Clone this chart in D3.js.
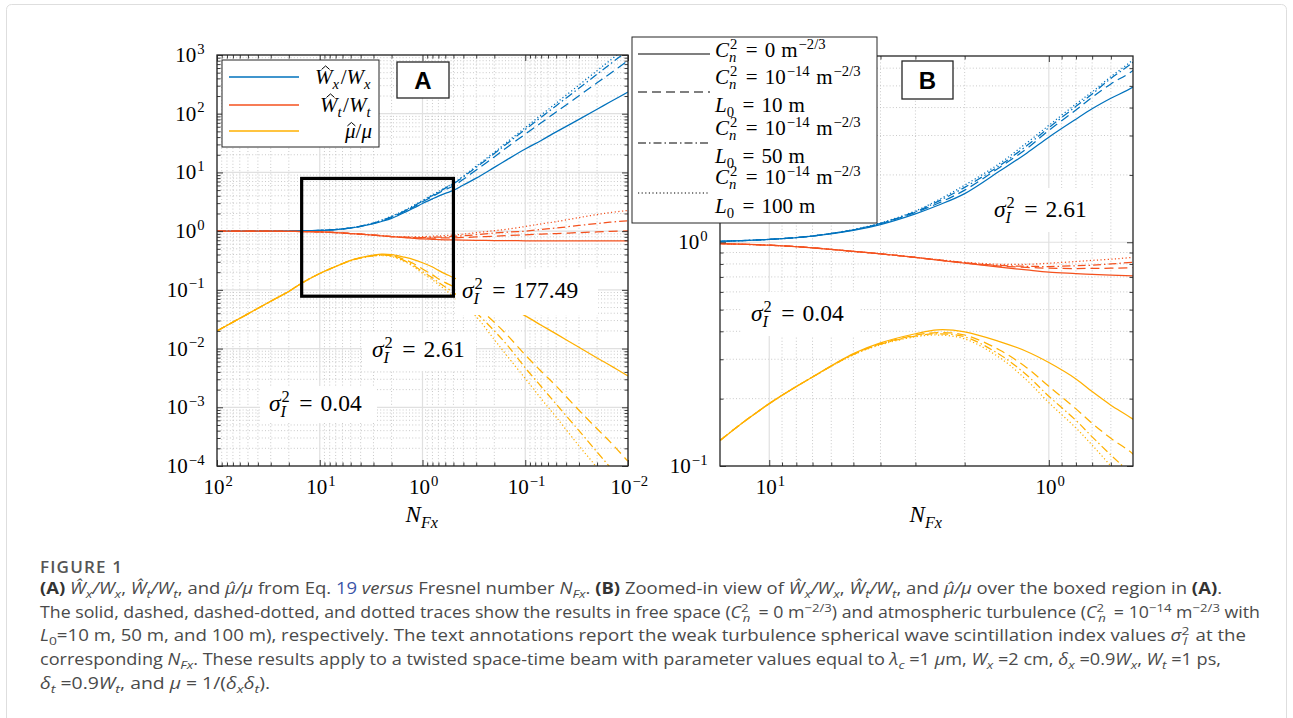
<!DOCTYPE html>
<html>
<head>
<meta charset="utf-8">
<script src="https://cdn.jsdelivr.net/npm/d3@7"></script>
<style>
  body { margin: 0; background: #fff; }
  svg { display: block; }
</style>
</head>
<body>
<svg id="fig" width="1293" height="718"></svg>
<script>
// ---- data ----
// Fresnel number samples (x axis, shared by every trace)
const nfx = [100, 50, 30, 20, 15, 10, 7, 5, 4, 3, 2.5, 2, 1.5, 1.2, 1, 0.8, 0.7, 0.6, 0.5, 0.4, 0.3, 0.2, 0.15, 0.1, 0.07, 0.05, 0.03, 0.02, 0.015, 0.01];

// W^_x / W_x
const wxFree = [1, 1, 1, 1.005, 1.01, 1.03, 1.065, 1.13, 1.2, 1.34, 1.46, 1.65, 2.08, 2.5, 2.95, 3.55, 3.95, 4.4, 4.94, 6.1, 8.0, 12.2, 16.5, 25, 35, 49, 80, 119, 158, 235];
const wxL10 = [1, 1, 1, 1.005, 1.01, 1.03, 1.066, 1.135, 1.21, 1.36, 1.49, 1.71, 2.16, 2.62, 3.16, 3.9, 4.45, 5.1, 5.86, 7.65, 11.0, 18.4, 26.8, 45, 70, 107, 202, 336, 481, 800];
const wxL50 = [1, 1, 1, 1.005, 1.01, 1.03, 1.067, 1.137, 1.215, 1.37, 1.52, 1.76, 2.2, 2.7, 3.25, 4.05, 4.6, 5.4, 6.38, 8.4, 12.2, 21, 31, 54, 87, 137, 272, 470, 694, 1200];
const wxL100 = [1, 1, 1, 1.005, 1.01, 1.03, 1.068, 1.14, 1.22, 1.38, 1.54, 1.8, 2.25, 2.78, 3.33, 4.15, 4.7, 5.5, 6.54, 8.7, 12.8, 22, 33, 58, 95, 152, 308, 542, 808, 1420];

// W^_t / W_t
const wtFree = [1, 1, 0.998, 0.993, 0.985, 0.97, 0.945, 0.91, 0.888, 0.855, 0.833, 0.806, 0.775, 0.752, 0.735, 0.725, 0.719, 0.713, 0.708, 0.702, 0.697, 0.692, 0.689, 0.686, 0.684, 0.683, 0.682, 0.681, 0.681, 0.68];
const wtL10 = [1, 1, 0.998, 0.993, 0.985, 0.97, 0.945, 0.91, 0.888, 0.855, 0.834, 0.808, 0.782, 0.772, 0.766, 0.763, 0.764, 0.766, 0.77, 0.78, 0.795, 0.82, 0.84, 0.865, 0.89, 0.91, 0.945, 0.97, 0.99, 1.01];
const wtL50 = [1, 1, 0.998, 0.993, 0.985, 0.97, 0.945, 0.91, 0.888, 0.855, 0.835, 0.81, 0.788, 0.781, 0.779, 0.785, 0.79, 0.8, 0.814, 0.835, 0.87, 0.93, 0.96, 1.0, 1.07, 1.13, 1.25, 1.35, 1.42, 1.5];
const wtL100 = [1, 1, 0.998, 0.993, 0.985, 0.97, 0.945, 0.91, 0.888, 0.856, 0.837, 0.814, 0.797, 0.797, 0.806, 0.82, 0.83, 0.84, 0.857, 0.89, 0.94, 1.02, 1.08, 1.2, 1.33, 1.45, 1.7, 1.92, 2.07, 2.25];

// mu^ / mu
const muFree = [0.02, 0.039, 0.064, 0.094, 0.13, 0.19, 0.25, 0.318, 0.355, 0.39, 0.406, 0.398, 0.36, 0.325, 0.29, 0.245, 0.215, 0.187, 0.162, 0.131, 0.1, 0.068, 0.052, 0.036, 0.025, 0.0178, 0.0105, 0.0069, 0.0052, 0.0034];
const muL10 = [0.02, 0.039, 0.064, 0.094, 0.13, 0.19, 0.25, 0.316, 0.352, 0.384, 0.395, 0.385, 0.33, 0.275, 0.227, 0.18, 0.155, 0.133, 0.113, 0.082, 0.053, 0.028, 0.017, 0.0078, 0.0041, 0.0023, 0.00089, 0.00043, 0.00026, 0.00012];
const muL50 = [0.02, 0.039, 0.064, 0.094, 0.13, 0.19, 0.25, 0.315, 0.35, 0.381, 0.39, 0.378, 0.315, 0.255, 0.205, 0.16, 0.135, 0.112, 0.09, 0.0655, 0.041, 0.02, 0.0115, 0.0047, 0.00226, 0.00113, 0.0004, 0.000173, 0.000096, 0.000042];
const muL100 = [0.02, 0.039, 0.064, 0.094, 0.13, 0.19, 0.25, 0.314, 0.348, 0.378, 0.385, 0.37, 0.305, 0.242, 0.192, 0.148, 0.124, 0.1, 0.077, 0.055, 0.035, 0.0142, 0.0075, 0.0031, 0.0014, 0.00068, 0.00022, 0.000092, 0.00004, 0.000015];

// zoom region (panel B limits, drawn as the box in panel A)
const boxN = [15, 0.5];
const boxV = [0.078, 7.9];

// scintillation index annotations
const sigmaA = ["177.49", "2.61", "0.04"];
const sigmaB = ["2.61", "0.04"];

// ---- look ----
const BLUE = "#0072BD", RED = "#F4511E", YEL = "#FFB000";
const MATH = "'Liberation Serif', 'DejaVu Serif', serif";
const SANS = "'Open Sans', 'Noto Sans', sans-serif";
const INK = "#262626";
const dashes = [null, "9,5", "8,3,1.5,3", "1.2,2.4"];

const quantities = [
  { color: BLUE, series: [wxFree, wxL10, wxL50, wxL100] },
  { color: RED, series: [wtFree, wtL10, wtL50, wtL100] },
  { color: YEL, series: [muFree, muL10, muL50, muL100] }
];

const svg = d3.select("#fig");
svg.append("rect").attr("width", 1293).attr("height", 718).attr("fill", "#fff");
svg.append("rect").attr("x", 6.5).attr("y", 4.5).attr("width", 1280).attr("height", 760)
  .attr("rx", 5).attr("fill", "none").attr("stroke", "#dedede");

// latex-like label: one <text> with positioned tspans, hats drawn as small paths
function mathText(parent, x, y, fs, pieces, anchor) {
  const meas = parent.append("text").attr("font-family", MATH);
  const width = (txt, size, it) => {
    meas.attr("font-size", size).attr("font-style", it ? "italic" : "normal").text(txt);
    return meas.node().getComputedTextLength();
  };
  const spans = [], hats = [];
  let cx = 0;
  pieces.forEach(p => {
    if (p.gap) { cx += p.gap; return; }
    if (p.t !== undefined) {
      const w = width(p.t, fs, p.it);
      spans.push({ txt: p.t, x: cx, y: 0, size: fs, it: p.it });
      if (p.hat) hats.push({ cx: cx + w * 0.6, top: p.cap ? -fs * 0.86 : -fs * 0.74 });
      cx += w;
      return;
    }
    let w = 0;
    if (p.sup !== undefined) {
      spans.push({ txt: p.sup, x: cx + 1, y: -fs * 0.4, size: fs * 0.7, it: p.supIt });
      w = Math.max(w, width(p.sup, fs * 0.7, p.supIt) + 1);
    }
    if (p.sub !== undefined) {
      spans.push({ txt: p.sub, x: cx, y: fs * 0.24, size: fs * 0.7, it: p.subIt });
      w = Math.max(w, width(p.sub, fs * 0.7, p.subIt));
    }
    cx += w + 1.5;
  });
  meas.remove();
  const x0 = x + (anchor === "end" ? -cx : anchor === "middle" ? -cx / 2 : 0);
  const t = parent.append("text").attr("font-family", MATH).attr("fill", "#000");
  spans.forEach(s => {
    t.append("tspan").attr("x", x0 + s.x).attr("y", y + s.y)
      .attr("font-size", s.size).attr("font-style", s.it ? "italic" : "normal").text(s.txt);
  });
  hats.forEach(h => {
    parent.append("path")
      .attr("d", "M" + (x0 + h.cx - 4) + "," + (y + h.top + 3.5) + "L" + (x0 + h.cx) + "," + (y + h.top) +
        "L" + (x0 + h.cx + 4) + "," + (y + h.top + 3.5))
      .attr("fill", "none").attr("stroke", "#000").attr("stroke-width", 1);
  });
  return cx;
}

function pow10(parent, x, y, e, anchor) {
  const s = e < 0 ? "\u2212" + (-e) : "" + e;
  mathText(parent, x, y, 21, [{ t: "10" }, { sup: s }], anchor);
}

function minors(lo, hi) {
  const out = [];
  for (let d = Math.floor(Math.log10(lo)); d <= Math.ceil(Math.log10(hi)); d++) {
    for (let k = 2; k <= 9; k++) {
      const v = k * Math.pow(10, d);
      if (v > lo * 1.001 && v < hi * 0.999) out.push(v);
    }
  }
  return out;
}

function panel(cfg) {
  const { left, top, w, h, xDom, yDom, xMaj, yMaj, id } = cfg;
  const x = d3.scaleLog().domain(xDom).range([0, w]);
  const y = d3.scaleLog().domain(yDom).range([h, 0]);
  const xMin = minors(Math.min(...xDom), Math.max(...xDom));
  const yMin = minors(yDom[0], yDom[1]);
  const g = svg.append("g").attr("transform", "translate(" + left + "," + top + ")");

  // grid
  g.selectAll(".gxm").data(xMin).join("line")
    .attr("x1", d => x(d)).attr("x2", d => x(d)).attr("y1", 0).attr("y2", h)
    .attr("stroke", "#bdbdbd").attr("stroke-width", 0.8).attr("stroke-dasharray", "1,2.2");
  g.selectAll(".gym").data(yMin).join("line")
    .attr("y1", d => y(d)).attr("y2", d => y(d)).attr("x1", 0).attr("x2", w)
    .attr("stroke", "#bdbdbd").attr("stroke-width", 0.8).attr("stroke-dasharray", "1,2.2");
  g.selectAll(".gx").data(xMaj).join("line")
    .attr("x1", d => x(d)).attr("x2", d => x(d)).attr("y1", 0).attr("y2", h)
    .attr("stroke", "#e0e0e0").attr("stroke-width", 1.2);
  g.selectAll(".gy").data(yMaj).join("line")
    .attr("y1", d => y(d)).attr("y2", d => y(d)).attr("x1", 0).attr("x2", w)
    .attr("stroke", "#e0e0e0").attr("stroke-width", 1.2);

  // traces
  g.append("clipPath").attr("id", id).append("rect").attr("width", w).attr("height", h);
  const plot = g.append("g").attr("clip-path", "url(#" + id + ")");
  const line = d3.line()
    .x(d => x(d[0])).y(d => y(d[1]))
    .curve(d3.curveCatmullRom.alpha(0.5));
  quantities.forEach(q => {
    [3, 2, 1, 0].forEach(k => {
      plot.append("path")
        .datum(nfx.map((n, i) => [n, q.series[k][i]]))
        .attr("d", line)
        .attr("fill", "none")
        .attr("stroke", q.color)
        .attr("stroke-width", 1.25)
        .attr("stroke-dasharray", dashes[k]);
    });
  });

  // ticks on all four sides, pointing inward
  [[xMaj, 6], [xMin, 3.5]].forEach(([vals, len]) => {
    g.append("g").attr("transform", "translate(0," + h + ")")
      .call(d3.axisBottom(x).tickValues(vals).tickSize(-len).tickFormat(""));
    g.append("g").call(d3.axisTop(x).tickValues(vals).tickSize(-len).tickFormat(""));
  });
  [[yMaj, 6], [yMin, 3.5]].forEach(([vals, len]) => {
    g.append("g").call(d3.axisLeft(y).tickValues(vals).tickSize(-len).tickFormat(""));
    g.append("g").attr("transform", "translate(" + w + ",0)")
      .call(d3.axisRight(y).tickValues(vals).tickSize(-len).tickFormat(""));
  });
  g.selectAll(".domain").remove();
  g.selectAll(".tick line").attr("stroke", INK).attr("stroke-width", 0.9);

  g.append("rect").attr("width", w).attr("height", h)
    .attr("fill", "none").attr("stroke", INK).attr("stroke-width", 1.3);

  // tick labels
  xMaj.forEach(v => pow10(g, x(v) + 2, h + 28, Math.round(Math.log10(v)), "middle"));
  yMaj.forEach(v => pow10(g, -11, y(v) + 7, Math.round(Math.log10(v)), "end"));

  // axis label
  mathText(g, w / 2, h + 56, 23, [{ t: "N", it: true }, { sub: "Fx", subIt: true }], "middle");

  return { g, x, y };
}

const A = panel({
  id: "clipA", left: 217, top: 55, w: 411, h: 411,
  xDom: [100, 0.01], yDom: [1e-4, 1e3],
  xMaj: [100, 10, 1, 0.1, 0.01], yMaj: [1e-4, 1e-3, 1e-2, 1e-1, 1, 10, 100, 1000]
});
const B = panel({
  id: "clipB", left: 720, top: 56, w: 413, h: 410,
  xDom: [15, 0.5], yDom: [0.1, 6.8],
  xMaj: [10, 1], yMaj: [0.1, 1]
});

// zoom box in panel A
A.g.append("rect")
  .attr("x", A.x(boxN[0])).attr("y", A.y(boxV[1]))
  .attr("width", A.x(boxN[1]) - A.x(boxN[0])).attr("height", A.y(boxV[0]) - A.y(boxV[1]))
  .attr("fill", "none").attr("stroke", "#000").attr("stroke-width", 3.2);

// sigma annotations (white background like MATLAB text boxes)
function sigmaLabel(bx, by, bw, bh, tx, ty, val) {
  svg.append("rect").attr("x", bx).attr("y", by).attr("width", bw).attr("height", bh).attr("fill", "#fff");
  mathText(svg, tx, ty, 23.5, [
    { t: "\u03C3", it: true }, { sup: "2", sub: "I", subIt: true },
    { gap: 8 }, { t: "=" }, { gap: 8 }, { t: val }
  ], "start");
}
sigmaLabel(456, 269, 142, 46, 462, 298, sigmaA[0]);
sigmaLabel(362, 333, 114, 38, 372, 357, sigmaA[1]);
sigmaLabel(260, 386, 117, 37, 269, 411, sigmaA[2]);
sigmaLabel(986, 188, 112, 44, 994, 217, sigmaB[0]);
sigmaLabel(742, 292, 118, 44, 751, 321, sigmaB[1]);

// panel tags
function tag(x0, y0, w, h, letter) {
  svg.append("rect").attr("x", x0).attr("y", y0).attr("width", w).attr("height", h)
    .attr("fill", "#fff").attr("stroke", INK).attr("stroke-width", 1.3);
  svg.append("text").attr("x", x0 + w / 2).attr("y", y0 + h / 2 + 8.5)
    .attr("text-anchor", "middle").attr("font-family", "'Liberation Sans', Arial, sans-serif")
    .attr("font-weight", "bold").attr("font-size", 24).text(letter);
}
tag(397, 62, 52, 36, "A");
tag(902, 61, 51, 38, "B");

// legend of panel A (quantities)
svg.append("rect").attr("x", 222).attr("y", 60).attr("width", 157).attr("height", 87)
  .attr("fill", "#fff").attr("stroke", INK).attr("stroke-width", 1);
const legA = [
  [{ t: "W", it: true, hat: true, cap: true }, { sub: "x", subIt: true }, { t: "/" }, { t: "W", it: true }, { sub: "x", subIt: true }],
  [{ t: "W", it: true, hat: true, cap: true }, { sub: "t", subIt: true }, { t: "/" }, { t: "W", it: true }, { sub: "t", subIt: true }],
  [{ t: "\u03BC", it: true, hat: true }, { t: "/" }, { t: "\u03BC", it: true }]
];
[77, 105, 131].forEach((yy, i) => {
  svg.append("line").attr("x1", 229).attr("x2", 299).attr("y1", yy).attr("y2", yy)
    .attr("stroke", quantities[i].color).attr("stroke-width", 1.3);
  mathText(svg, 372, yy + 7, 21, legA[i], "end");
});

// legend of panel B (line styles)
svg.append("rect").attr("x", 632).attr("y", 37).attr("width", 245).attr("height", 186)
  .attr("fill", "#fff").attr("stroke", INK).attr("stroke-width", 1);
const cn0 = [{ t: "C", it: true }, { sup: "2", sub: "n", subIt: true }, { gap: 7 }, { t: "=" }, { gap: 7 }, { t: "0" }, { gap: 6 }, { t: "m" }, { sup: "\u22122/3" }];
const cn14 = [{ t: "C", it: true }, { sup: "2", sub: "n", subIt: true }, { gap: 7 }, { t: "=" }, { gap: 7 }, { t: "10" }, { sup: "\u221214" }, { gap: 5 }, { t: "m" }, { sup: "\u22122/3" }];
const l0 = v => [{ t: "L", it: true }, { sub: "0" }, { gap: 7 }, { t: "=" }, { gap: 7 }, { t: v }, { gap: 6 }, { t: "m" }];
const legB = [
  { ly: 54, rows: [[cn0, 57]] },
  { ly: 92, rows: [[cn14, 84], [l0("10"), 112]] },
  { ly: 143, rows: [[cn14, 135], [l0("50"), 163]] },
  { ly: 193, rows: [[cn14, 184], [l0("100"), 213]] }
];
legB.forEach((e, k) => {
  svg.append("line").attr("x1", 638).attr("x2", 710).attr("y1", e.ly).attr("y2", e.ly)
    .attr("stroke", "#000").attr("stroke-width", 1.2).attr("stroke-dasharray", dashes[k]);
  e.rows.forEach(([pieces, yy]) => mathText(svg, 715, yy, 21, pieces, "start"));
});

// ---- caption ----
svg.append("text").attr("x", 40).attr("y", 573).attr("font-family", SANS)
  .attr("font-size", 17).attr("font-weight", 600).attr("fill", "#555")
  .attr("textLength", 82).attr("lengthAdjust", "spacing").text("FIGURE 1");

// flags: b bold, i italic, _ sub, ^ sup, l link colour, < stack under previous sup, > step past the stack
function caption(y, parts, len) {
  const t = svg.append("text").attr("x", 40).attr("y", y)
    .attr("font-family", SANS).attr("font-size", 15.5).attr("fill", "#4a4a4a")
    .style("white-space", "pre");
  let shift = 0;
  parts.forEach(p => {
    const [txt, st] = typeof p === "string" ? [p, ""] : p;
    const ts = t.append("tspan").text(txt);
    let target = 0;
    if (st.includes("_")) target = 4;
    if (st.includes("^")) target = -6;
    if (target !== shift) { ts.attr("dy", target - shift); shift = target; }
    if (target !== 0) ts.attr("font-size", 11.5);
    if (st.includes("i")) ts.attr("font-style", "italic");
    if (st.includes("b")) ts.attr("font-weight", "bold").attr("fill", "#333");
    if (st.includes("l")) ts.attr("fill", "#3b55a8");
    if (st.includes("<")) ts.attr("dx", -5);
    if (st.includes(">")) ts.attr("dx", 3);
  });
  t.attr("textLength", len).attr("lengthAdjust", "spacingAndGlyphs");
}
const ratios = [["\u0174", "i"], ["x", "i_"], ["/W", "i"], ["x", "i_"], ", ", ["\u0174", "i"], ["t", "i_"], ["/W", "i"], ["t", "i_"], ", and ", ["\u03BC\u0302/\u03BC", "i"]];
caption(594, [["(A)", "b"], " "].concat(ratios, [" from Eq. ", ["19", "l"], " ", ["versus", "i"], " Fresnel number ", ["N", "i"], ["Fx", "i_"], ". ", ["(B)", "b"], " Zoomed-in view of "], ratios, [" over the boxed region in ", ["(A)", "b"], "."]), 1182);
caption(617.5, ["The solid, dashed, dashed-dotted, and dotted traces show the results in free space (", ["C", "i"], ["2", "^"], ["n", "i_<"], [" = 0 m", ">"], ["\u22122/3", "^"], ") and atmospheric turbulence (", ["C", "i"], ["2", "^"], ["n", "i_<"], [" = 10", ">"], ["\u221214", "^"], " m", ["\u22122/3", "^"], " with"], 1220);
caption(641, [["L", "i"], ["0", "_"], "=10 m, 50 m, and 100 m), respectively. The text annotations report the weak turbulence spherical wave scintillation index values ", ["\u03C3", "i"], ["2", "^"], ["I", "i_<"], [" at the", ">"]], 1206);
caption(665, ["corresponding ", ["N", "i"], ["Fx", "i_"], ". These results apply to a twisted space-time beam with parameter values equal to ", ["\u03BB", "i"], ["c", "i_"], " =1 ", ["\u03BC", "i"], "m, ", ["W", "i"], ["x", "i_"], " =2 cm, ", ["\u03B4", "i"], ["x", "i_"], " =0.9", ["W", "i"], ["x", "i_"], ", ", ["W", "i"], ["t", "i_"], " =1 ps,"], 1181);
caption(689, [["\u03B4", "i"], ["t", "i_"], " =0.9", ["W", "i"], ["t", "i_"], ", and ", ["\u03BC", "i"], " = 1/(", ["\u03B4", "i"], ["x", "i_"], ["\u03B4", "i"], ["t", "i_"], ")."], 230);
</script>
</body>
</html>
